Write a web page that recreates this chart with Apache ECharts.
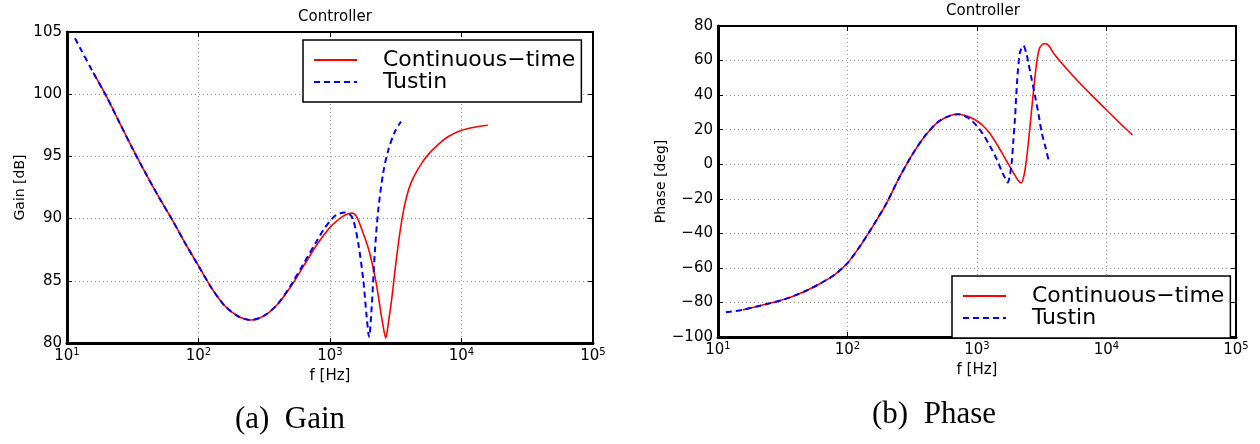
<!DOCTYPE html>
<html><head><meta charset="utf-8">
<script src="https://cdn.jsdelivr.net/npm/echarts@6/dist/echarts.min.js"></script>
<style>html,body{margin:0;padding:0;background:#fff}#c{width:1260px;height:444px}</style>
</head><body><div id="c"></div>
<script>
// ---- data ----
const seriesNames = ['Continuous\u2212time', 'Tustin'];
const chartTitles = ['Controller', 'Controller'];
const captions = ['(a)  Gain', '(b)  Phase'];
const xAxisNames = ['f [Hz]', 'f [Hz]'];
const yAxisNames = ['Gain [dB]', 'Phase [deg]'];

const gainContF  = [15.8, 20.0, 25.1, 31.6, 39.8, 50.1, 63.1, 79.4, 100, 126, 158, 200, 251, 316, 398, 501, 631, 794, 1000, 1122, 1259, 1462, 1585, 1791, 1995, 2239, 2399, 2512, 2655, 2786, 2944, 3126, 3311, 3508, 3715, 3981, 4305, 5012, 5754, 7079, 7943, 10000, 12589, 15849];
const gainContDb = [101.75, 99.8, 97.7, 95.6, 93.6, 91.7, 89.9, 88.0, 86.2, 84.4, 83.0, 82.15, 81.85, 82.2, 83.1, 84.5, 86.2, 87.9, 89.3, 89.8, 90.2, 90.45, 90.2, 88.8, 87.3, 84.9, 82.9, 81.6, 80.4, 81.7, 83.5, 85.9, 88.0, 89.8, 91.2, 92.4, 93.3, 94.5, 95.3, 96.2, 96.6, 97.1, 97.35, 97.5];

const gainTustF  = [11.5, 12.6, 15.8, 20.0, 25.1, 31.6, 39.8, 50.1, 63.1, 79.4, 100, 126, 158, 200, 251, 316, 398, 501, 631, 794, 891, 1059, 1175, 1300, 1413, 1503, 1641, 1791, 1901, 1982, 2075, 2198, 2328, 2541, 2773, 3119, 3467];
const gainTustDb = [104.5, 103.7, 101.75, 99.8, 97.7, 95.6, 93.6, 91.7, 89.9, 88.0, 86.2, 84.4, 83.0, 82.15, 81.85, 82.2, 83.1, 84.6, 86.4, 88.2, 89.1, 90.1, 90.4, 90.5, 90.35, 89.9, 88.0, 85.06, 82.1, 80.5, 82.9, 87.5, 90.7, 93.7, 95.5, 97.0, 97.8];

const phaseContF   = [15.5, 20.0, 25.1, 31.6, 39.8, 50.1, 63.1, 79.4, 100, 126, 158, 200, 251, 316, 398, 501, 631, 718, 794, 891, 1000, 1122, 1259, 1413, 1585, 1778, 1995, 2089, 2188, 2291, 2399, 2512, 2630, 2754, 2884, 3020, 3162, 3350, 3548, 3981, 5012, 6310, 7943, 10000, 12589, 15849];
const phaseContDeg = [-84.3, -82.3, -80.5, -78.5, -75.8, -72.5, -68.6, -64.0, -57.2, -47.0, -35.5, -22.6, -7.8, 5.5, 16.5, 24.5, 28.4, 28.9, 28.3, 27.0, 25.0, 22.0, 17.8, 12.0, 5.5, -1.0, -7.3, -9.6, -10.9, -7.5, 1.5, 15.0, 30.0, 45.0, 58.3, 66.5, 69.0, 69.7, 69.0, 63.3, 54.5, 46.4, 38.8, 31.4, 24.0, 16.9];

const phaseTustF   = [11.5, 15.5, 20.0, 25.1, 31.6, 39.8, 50.1, 63.1, 79.4, 100, 126, 158, 200, 251, 316, 398, 501, 631, 718, 794, 891, 1000, 1122, 1259, 1413, 1549, 1641, 1726, 1799, 1854, 1905, 1963, 2046, 2148, 2280, 2399, 2489, 2630, 2805, 2985, 3162, 3388, 3614];
const phaseTustDeg = [-85.7, -84.3, -82.3, -80.5, -78.5, -75.8, -72.5, -68.6, -64.0, -57.2, -47.0, -35.5, -22.6, -7.8, 5.5, 16.5, 24.5, 28.4, 28.9, 28.0, 25.8, 22.0, 17.0, 10.5, 3.2, -3.9, -7.8, -10.6, -6.0, 1.0, 13.0, 26.2, 49.3, 64.8, 68.6, 64.5, 58.9, 50.0, 39.6, 29.0, 18.3, 9.5, 0.6];

const gainRange  = {min: 80, max: 105, interval: 5};
const phaseRange = {min: -100, max: 80, interval: 20};
const freqRange  = {min: 10, max: 100000};

// ---- chart ----
const FONT = 'DejaVu Sans';
const pairs = (f, v) => f.map((x, i) => [x, v[i]]);
const minus = s => String(s).replace('-', '\u2212');

function xMain(grid, name, nameGap) {
  return {
    type: 'log', logBase: 10, gridIndex: grid, min: freqRange.min, max: freqRange.max, splitNumber: 4,
    name: name, nameLocation: 'middle', nameGap: nameGap,
    nameTextStyle: {fontFamily: FONT, fontSize: 15, color: '#000'},
    axisLine: {show: true, onZero: false, lineStyle: {color: '#000', width: 3}},
    axisTick: {show: true, inside: true, length: 5, lineStyle: {color: '#000', width: 1}},
    minorTick: {show: false},
    axisLabel: {
      margin: 4, color: '#000',
      formatter: v => '{b|10}{e|' + Math.round(Math.log10(v)) + '}',
      rich: {
        b: {fontFamily: FONT, fontSize: 15, color: '#000'},
        e: {fontFamily: FONT, fontSize: 10, color: '#000', padding: [0, 0, 9, 0]}
      }
    },
    splitLine: {show: true, lineStyle: {color: '#999', type: [1, 3], width: 1}}
  };
}
function xTop(grid) {
  return {
    type: 'log', logBase: 10, gridIndex: grid, position: 'top', min: freqRange.min, max: freqRange.max, splitNumber: 4,
    axisLine: {show: true, onZero: false, lineStyle: {color: '#000', width: 2}},
    axisTick: {show: true, inside: true, length: 5, lineStyle: {color: '#000', width: 1}},
    axisLabel: {show: false}, splitLine: {show: false}
  };
}
function yMain(grid, r, name, nameGap) {
  return {
    type: 'value', gridIndex: grid, min: r.min, max: r.max, interval: r.interval,
    name: name, nameLocation: 'middle', nameGap: nameGap,
    nameTextStyle: {fontFamily: FONT, fontSize: 14, color: '#000'},
    axisLine: {show: true, onZero: false, lineStyle: {color: '#000', width: 3}},
    axisTick: {show: true, inside: true, length: 5, lineStyle: {color: '#000', width: 1}},
    axisLabel: {margin: 5, fontFamily: FONT, fontSize: 15, color: '#000', formatter: v => minus(v)},
    splitLine: {show: true, lineStyle: {color: '#999', type: [1, 3], width: 1}}
  };
}
function yRight(grid, r) {
  return {
    type: 'value', gridIndex: grid, position: 'right', min: r.min, max: r.max, interval: r.interval,
    axisLine: {show: true, onZero: false, lineStyle: {color: '#000', width: 2}},
    axisTick: {show: true, inside: true, length: 5, lineStyle: {color: '#000', width: 1}},
    axisLabel: {show: false}, splitLine: {show: false}
  };
}
function lineSeries(name, xi, yi, data, dashed) {
  return {
    name: name, type: 'line', xAxisIndex: xi, yAxisIndex: yi, data: data,
    symbol: 'none', showSymbol: false, smooth: 0.3, animation: false,
    lineStyle: dashed ? {color: '#0000ff', width: 2, type: [6, 4]} : {color: '#ff0000', width: 1.6, type: 'solid'},
    itemStyle: {color: dashed ? '#0000ff' : '#ff0000'}
  };
}
function legend(left, top) {
  return {
    data: seriesNames, orient: 'vertical', left: left, top: top,
    selectedMode: false, backgroundColor: '#fff', borderColor: '#000', borderWidth: 1.5,
    padding: [9, 6, 9, 10], itemGap: 0, itemWidth: 43, itemHeight: 8,
    itemStyle: {opacity: 0, borderWidth: 0},
    formatter: n => '   ' + n,
    textStyle: {fontFamily: FONT, fontSize: 22, color: '#000', lineHeight: 18}
  };
}

const chart = echarts.init(document.getElementById('c'), null, {renderer: 'canvas'});
chart.setOption({
  animation: false,
  backgroundColor: '#fff',
  title: [
    {text: chartTitles[0], left: 330, top: 5, textAlign: 'center', textStyle: {fontFamily: FONT, fontSize: 15, fontWeight: 'normal', color: '#000'}},
    {text: chartTitles[1], left: 978, top: -1, textAlign: 'center', textStyle: {fontFamily: FONT, fontSize: 15, fontWeight: 'normal', color: '#000'}}
  ],
  grid: [
    {left: 67, top: 32, width: 526, height: 311, containLabel: false},
    {left: 718, top: 26, width: 518, height: 311, containLabel: false}
  ],
  xAxis: [xMain(0, xAxisNames[0], 22), xTop(0), xMain(1, xAxisNames[1], 23), xTop(1)],
  yAxis: [yMain(0, gainRange, yAxisNames[0], 40), yRight(0, gainRange), yMain(1, phaseRange, yAxisNames[1], 46), yRight(1, phaseRange)],
  legend: [legend(303, 40), legend(952, 276)],
  series: [
    lineSeries(seriesNames[0], 0, 0, pairs(gainContF, gainContDb), false),
    lineSeries(seriesNames[1], 0, 0, pairs(gainTustF, gainTustDb), true),
    lineSeries(seriesNames[0], 2, 2, pairs(phaseContF, phaseContDeg), false),
    lineSeries(seriesNames[1], 2, 2, pairs(phaseTustF, phaseTustDeg), true)
  ],
  graphic: [
    {type: 'text', x: 290, y: 420, style: {text: captions[0], fontFamily: 'Liberation Serif', fontSize: 31, fill: '#000', align: 'center', verticalAlign: 'middle'}},
    {type: 'text', x: 934, y: 415, style: {text: captions[1], fontFamily: 'Liberation Serif', fontSize: 31, fill: '#000', align: 'center', verticalAlign: 'middle'}}
  ]
});
</script>
</body></html>
